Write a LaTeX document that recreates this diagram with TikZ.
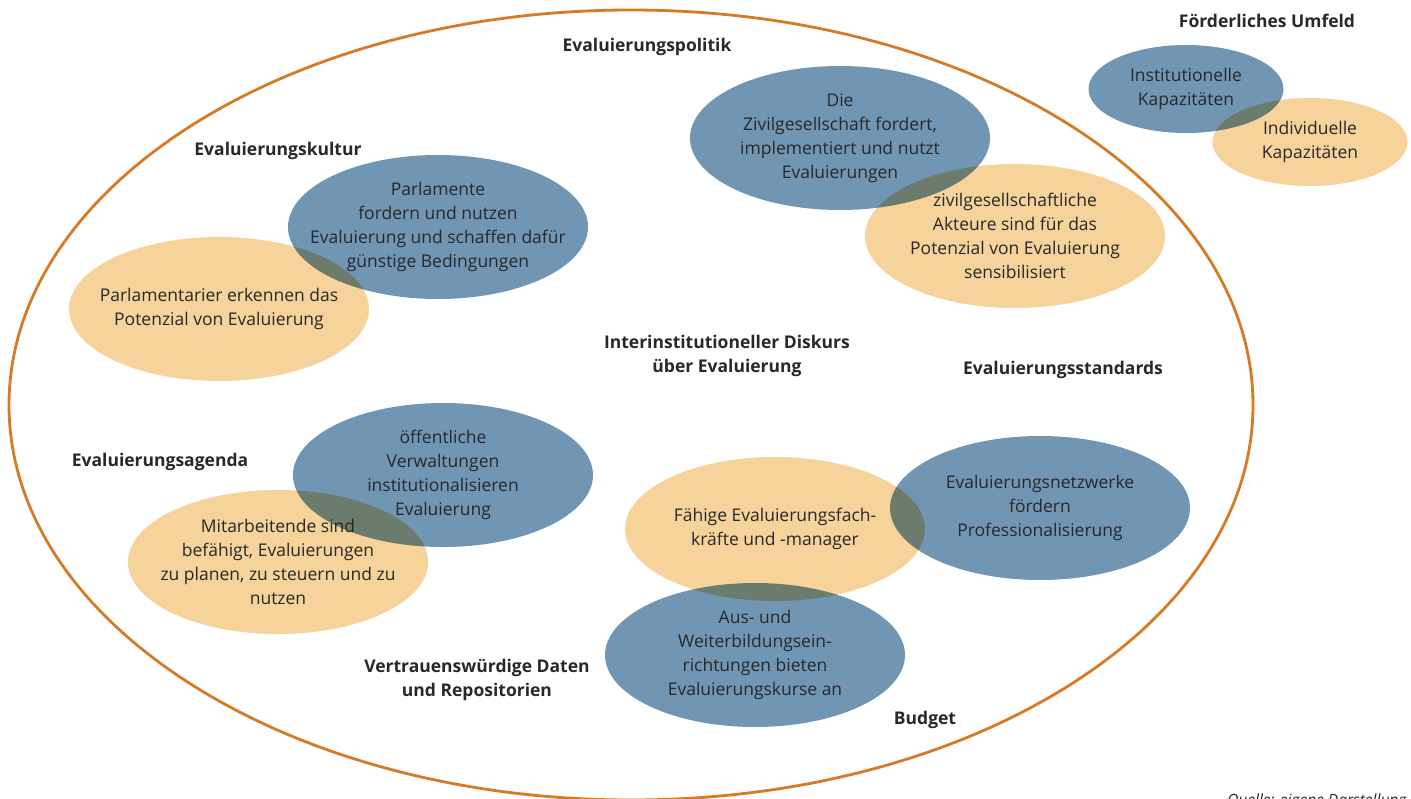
\documentclass[tikz,border=0pt]{standalone}
\usepackage{fontspec}
\setmainfont{Open Sans}
\usetikzlibrary{shapes.geometric, positioning}
\definecolor{evblue}{RGB}{112,150,180}
\definecolor{evsand}{RGB}{245,211,155}
\definecolor{evorange}{RGB}{214,122,38}
\definecolor{evtext}{RGB}{40,40,40}
\tikzset{
		>=stealth,
		blob/.style={ellipse, inner sep=0pt, minimum width=300pt, minimum height=144pt, blend mode=multiply},
		blueblob/.style={blob, fill=evblue},
		sandblob/.style={blob, fill=evsand},
		smallblob/.style={minimum width=195pt, minimum height=88pt},
		blobtext/.style={align=center, text=evtext, font=\fontsize{17.5}{24}\selectfont},
		headline/.style={align=center, text=evtext, font=\fontsize{17.5}{24}\selectfont\bfseries}
	}

\begin{document}
\begin{tikzpicture}[x=1pt, y=-1pt]
		\useasboundingbox (0,0) rectangle (1411,798);
		\draw[evorange, line width=2.8pt] (631,405) ellipse (622 and 395);
		% Flaechen
		\node[blueblob] (zivil) at (840,138) {};
		\node[sandblob] (akteure) at (1015,236) {};
		\node[blueblob, smallblob] (instkap) at (1186,89) {};
		\node[sandblob, smallblob] (indkap) at (1310,142) {};
		\node[blueblob] (parl) at (438,227) {};
		\node[sandblob] (parlier) at (219,309) {};
		\node[blueblob] (verw) at (443,475) {};
		\node[sandblob] (mitarb) at (278,562) {};
		\node[sandblob] (fach) at (775,529) {};
		\node[blueblob] (netz) at (1040,508) {};
		\node[blueblob] (bildung) at (755,655) {};
		% Texte in den Flaechen
		\node[blobtext] (zivil-t) at (zivil) {Die\\Zivilgesellschaft fordert,\\implementiert und nutzt\\Evaluierungen};
		\node[blobtext] (akteure-t) at (akteure) {zivilgesellschaftliche\\Akteure sind für das\\Potenzial von Evaluierung\\sensibilisiert};
		\node[blobtext] (instkap-t) at (instkap) {Institutionelle\\Kapazitäten};
		\node[blobtext] (indkap-t) at (indkap) {Individuelle\\Kapazitäten};
		\node[blobtext] (parl-t) at (parl) {Parlamente\\fordern und nutzen\\Evaluierung und schaffen dafür\\günstige Bedingungen};
		\node[blobtext] (parlier-t) at (parlier) {Parlamentarier erkennen das\\Potenzial von Evaluierung};
		\node[blobtext] (verw-t) at (verw) {öffentliche\\Verwaltungen\\institutionalisieren\\Evaluierung};
		\node[blobtext] (mitarb-t) at (mitarb) {Mitarbeitende sind\\befähigt, Evaluierungen\\zu planen, zu steuern und zu\\nutzen};
		\node[blobtext] (fach-t) at (fach) {Fähige Evaluierungsfach-\\kräfte und -manager};
		\node[blobtext] (netz-t) at (netz) {Evaluierungsnetzwerke\\fördern\\Professionalisierung};
		\node[blobtext] (bildung-t) at (bildung) {Aus- und\\Weiterbildungsein-\\richtungen bieten\\Evaluierungskurse an};
		% Ueberschriften
		\node[headline] (politik) at (647,47) {Evaluierungspolitik};
		\node[headline] (umfeld) at (1267,21) {Förderliches Umfeld};
		\node[headline] (kultur) at (278,151) {Evaluierungskultur};
		\node[headline] (diskurs) at (727,356) {Interinstitutioneller Diskurs\\über Evaluierung};
		\node[headline] (standards) at (1063,370) {Evaluierungsstandards};
		\node[headline] (agenda) at (160,462) {Evaluierungsagenda};
		\node[headline] (daten) at (477,680) {Vertrauenswürdige Daten\\und Repositorien};
		\node[headline] (budget) at (925,720) {Budget};
		\node[text=evtext, font=\fontsize{15.5}{16}\selectfont\itshape, anchor=base east] (quelle) at (1410,805) {Quelle: eigene Darstellung};
	\end{tikzpicture}
\end{document}
